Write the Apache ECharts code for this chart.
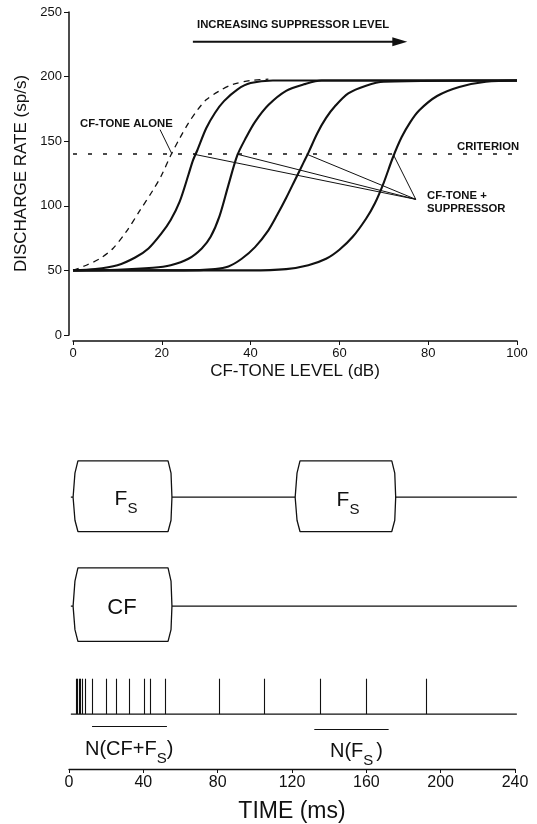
<!DOCTYPE html>
<html>
<head>
<meta charset="utf-8">
<script src="https://cdn.jsdelivr.net/npm/echarts@6/dist/echarts.min.js"></script>
<style>
html, body { margin: 0; padding: 0; background: #fff; }
#chart { width: 537px; height: 824px; }
</style>
</head>
<body>
<div id="chart"></div>
<script>
// rate-level curves (dB, sp/s)
const toneAlone = [[0,50],[3,54],[6,59],[9,67],[12,80],[15,96],[18,112],[20,124],[22,139],[24,152],[26,164],[28,174],[30,182],[33,189],[36,194],[40,197],[44,198]];
const suppCurve1 = [[0,50],[5,51],[10,54],[14,60],[17,67],[20,79],[22,89],[24,103],[26,124],[27,135],[28,143],[30,160],[32,172],[34,181],[37,190],[40,195],[45,197],[100,197]];
const suppCurve2 = [[0,50],[10,50.5],[18,52],[22,54],[26,59],[29,67],[31,76],[33,92],[35,116],[37,139],[39,153],[41,165],[44,178],[48,189],[52,194],[56,197],[100,197]];
const suppCurve3 = [[0,50],[25,50],[32,51],[35,53],[38,59],[41,68],[44,81],[46,93],[48,106],[50,120],[52,134],[53,141],[55,156],[57,168],[59,177],[62,187],[66,193],[70,196],[100,197]];
const suppCurve4 = [[0,50],[40,50],[48,51],[53,54],[57,59],[60,66],[63,76],[66,90],[68,102],[70,118],[72,137],[74,153],[76,165],[78,174],[82,185],[87,192],[93,196],[100,197]];
const criterion = 140;
const crossings = [27.1, 36.9, 52.6, 72.1]; // where suppressed curves cross criterion
const pointerTip = [77.2, 105];
const alonePointer = [[19.6, 159], [22.3, 140]];
const suppArrow = [[27, 227], [73.6, 227]];

// stimulus / response timeline (ms)
const fsBoxes = [[4.8, 53.3], [124.3, 173.7]];
const cfBox = [4.8, 53.3];
const spikeTimes = [3.8, 4.7, 5.4, 5.9, 7.0, 8.6, 12.6, 20.3, 25.3, 32.5, 40.5, 43.6, 52.0, 80.7, 105, 135, 160, 192];
const countWindows = [[12.4, 52.7], [132, 172]];
const timeTicks = [0, 40, 80, 120, 160, 200, 240];

const FONT = "'Liberation Sans', Arial, sans-serif";
const black = '#111';

// row levels in the lower panel (hidden axis, 0-320)
const fsRow = { top: 314, mid: 277, bot: 242 };
const cfRow = { top: 205, mid: 166, bot: 130 };
const train = { base: 56, top: 92 };

function boxPath(t0, t1, row, startT) {
  // bowed-side tone burst envelope
  const pts = [];
  if (startT != null) pts.push([startT, row.mid]);
  pts.push([t0 - 2.6, row.mid], [t0 - 1.6, (row.mid + row.top) / 2 + 6], [t0, row.top],
    [t1, row.top], [t1 + 1.6, (row.mid + row.top) / 2 + 6], [t1 + 2.1, row.mid],
    [t1 + 1.6, (row.mid + row.bot) / 2 - 6], [t1, row.bot], [t0, row.bot],
    [t0 - 1.6, (row.mid + row.bot) / 2 - 6], [t0 - 2.6, row.mid]);
  return pts;
}

const chart = echarts.init(document.getElementById('chart'));

const curveSeries = [suppCurve1, suppCurve2, suppCurve3, suppCurve4].map(d => ({
  type: 'line', xAxisIndex: 0, yAxisIndex: 0, data: d, smooth: 0.3,
  showSymbol: false, lineStyle: { color: black, width: 2.1 }
}));

const pointerSeries = crossings.map(x => ({
  type: 'line', xAxisIndex: 0, yAxisIndex: 0, data: [[x, criterion], pointerTip],
  showSymbol: false, lineStyle: { color: black, width: 1 }
}));

const lower = (data, extra) => Object.assign({
  type: 'line', xAxisIndex: 1, yAxisIndex: 1, data, showSymbol: false, clip: false,
  lineStyle: { color: black, width: 1.3 }
}, extra || {});

const fsPath1 = boxPath(fsBoxes[0][0], fsBoxes[0][1], fsRow, 1);
const fsPath2 = boxPath(fsBoxes[1][0], fsBoxes[1][1], fsRow);
const cfPath = boxPath(cfBox[0], cfBox[1], cfRow, 1);

const subRich = (size, pad) => ({
  f: { fontSize: size, fontFamily: FONT, fill: black, verticalAlign: 'middle', lineHeight: size + 1 },
  s: { fontSize: 15, fontFamily: FONT, fill: black, verticalAlign: 'bottom', lineHeight: 35, padding: [0, pad, 0, 0] }
});

const option = {
  animation: false,
  backgroundColor: '#fff',
  textStyle: { fontFamily: FONT },
  grid: [
    { left: 73, right: 20, top: 12, bottom: 489 },
    { left: 69, right: 22, top: 455, bottom: 49 }
  ],
  xAxis: [
    {
      gridIndex: 0, type: 'value', min: 0, max: 100, interval: 20, offset: 6,
      name: 'CF-TONE LEVEL (dB)', nameLocation: 'middle', nameGap: 22,
      nameTextStyle: { fontSize: 17, color: black, fontFamily: FONT },
      axisLine: { onZero: false, lineStyle: { color: black, width: 1.5 } },
      axisTick: { length: 4, lineStyle: { color: black } },
      axisLabel: { fontSize: 13, color: black, margin: 6, fontFamily: FONT },
      splitLine: { show: false }
    },
    {
      gridIndex: 1, type: 'value', min: 0, max: 240, interval: 40,
      name: 'TIME (ms)', nameLocation: 'middle', nameGap: 31,
      nameTextStyle: { fontSize: 23, color: black, fontFamily: FONT },
      axisLine: { onZero: false, lineStyle: { color: black, width: 1.3 } },
      axisTick: { length: 4, lineStyle: { color: black } },
      axisLabel: { fontSize: 16, color: black, margin: 6, fontFamily: FONT,
        formatter: v => timeTicks.indexOf(v) >= 0 ? String(v) : '' },
      splitLine: { show: false }
    }
  ],
  yAxis: [
    {
      gridIndex: 0, type: 'value', min: 0, max: 250, interval: 50, offset: 4,
      name: 'DISCHARGE RATE (sp/s)', nameLocation: 'middle', nameGap: 37, nameRotate: 90,
      nameTextStyle: { fontSize: 17, color: black, fontFamily: FONT },
      axisLine: { show: true, onZero: false, lineStyle: { color: black, width: 1.5 } },
      axisTick: { show: true, length: 5, lineStyle: { color: black } },
      axisLabel: { fontSize: 13, color: black, margin: 7, fontFamily: FONT },
      splitLine: { show: false }
    },
    { gridIndex: 1, type: 'value', min: 0, max: 320, show: false }
  ],
  series: [
    {
      type: 'line', xAxisIndex: 0, yAxisIndex: 0, data: toneAlone, smooth: 0.3,
      showSymbol: false, lineStyle: { color: black, width: 1.3, type: [6, 5] }
    },
    ...curveSeries,
    {
      type: 'line', xAxisIndex: 0, yAxisIndex: 0, data: [[0, criterion], [99, criterion]],
      showSymbol: false, lineStyle: { color: black, width: 1.5, type: [4, 11] }
    },
    ...pointerSeries,
    {
      type: 'line', xAxisIndex: 0, yAxisIndex: 0, data: alonePointer,
      showSymbol: false, lineStyle: { color: black, width: 1 }
    },
    {
      type: 'line', xAxisIndex: 0, yAxisIndex: 0, symbol: 'none',
      data: [suppArrow[0], { value: suppArrow[1], symbol: 'triangle', symbolRotate: -90, symbolSize: [9, 15] }],
      itemStyle: { color: black }, lineStyle: { color: black, width: 2 }
    },
    // stimulus envelopes
    lower(fsPath1),
    lower([[fsBoxes[0][1] + 2.1, fsRow.mid], [fsBoxes[1][0] - 2.6, fsRow.mid]]),
    lower(fsPath2),
    lower([[fsBoxes[1][1] + 2.1, fsRow.mid], [241, fsRow.mid]]),
    lower(cfPath),
    lower([[cfBox[1] + 2.1, cfRow.mid], [241, cfRow.mid]]),
    lower([{ value: [-9.2, cfRow.top - 2], symbol: 'triangle', symbolSize: [6, 9] },
           { value: [-9.2, cfRow.bot + 2], symbol: 'triangle', symbolRotate: 180, symbolSize: [6, 9] }],
      { symbol: 'none', itemStyle: { color: black } }),
    // spike train
    lower([[1, train.base], [241, train.base]]),
    {
      type: 'lines', coordinateSystem: 'cartesian2d', xAxisIndex: 1, yAxisIndex: 1, clip: false,
      data: spikeTimes.map(t => ({ coords: [[t, train.base], [t, train.top]] }))
        .concat(countWindows.map((w, i) => ({ coords: [[w[0], 44 - i * 3], [w[1], 44 - i * 3]] }))),
      lineStyle: { color: black, width: 1.1, opacity: 1 }
    }
  ],
  graphic: [
    { type: 'text', left: 197, top: 19, style: { text: 'INCREASING SUPPRESSOR LEVEL', font: 'bold 11.3px ' + FONT, fill: black } },
    { type: 'text', left: 80, top: 118, style: { text: 'CF-TONE ALONE', font: 'bold 11.3px ' + FONT, fill: black } },
    { type: 'text', left: 457, top: 141, style: { text: 'CRITERION', font: 'bold 11.3px ' + FONT, fill: black } },
    { type: 'text', left: 427, top: 189, style: { text: 'CF-TONE +\nSUPPRESSOR', font: 'bold 11.3px ' + FONT, fill: black, lineHeight: 13 } },
    { type: 'text', x: 126, y: 499, style: { text: '{f|F}{s|S}', align: 'center', verticalAlign: 'middle', rich: subRich(21, 0) } },
    { type: 'text', x: 348, y: 500, style: { text: '{f|F}{s|S}', align: 'center', verticalAlign: 'middle', rich: subRich(21, 0) } },
    { type: 'text', x: 122, y: 608, style: { text: 'CF', align: 'center', verticalAlign: 'middle', font: '22px ' + FONT, fill: black } },
    { type: 'text', x: 85, y: 749, style: { text: '{f|N(CF+F}{s|S}{f|)}', align: 'left', verticalAlign: 'middle', rich: subRich(20, 0) } },
    { type: 'text', x: 330, y: 751, style: { text: '{f|N(F}{s|S}{f|)}', align: 'left', verticalAlign: 'middle', rich: subRich(20, 3) } }
  ]
};

chart.setOption(option);
</script>
</body>
</html>
